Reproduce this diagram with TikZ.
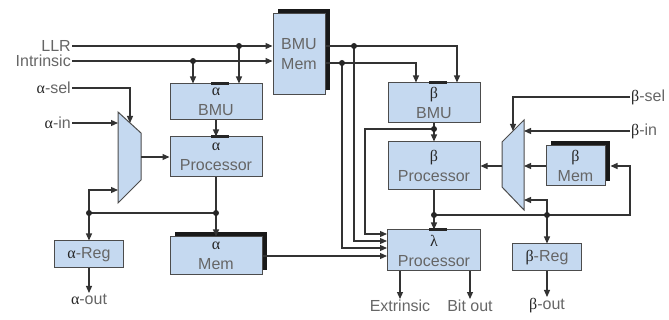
\documentclass[tikz,border=0pt]{standalone}
\usepackage{fontspec}
\setmainfont{Liberation Sans}
\newfontfamily\grkfont{Liberation Serif}
\usepackage{tikz}
\usetikzlibrary{arrows.meta,positioning,calc,shadows}
\definecolor{boxblue}{RGB}{197,217,240}
\newcommand{\lbl}{\fontsize{16}{20}\selectfont}
\newcommand{\gk}[1]{{\grkfont\color{black!85}#1}}
\newcommand{\topbar}[1]{\draw[line width=3pt, black!85] ($(#1.north)+(-5,0)$) -- ($(#1.north)+(13,0)$);}

\begin{document}
\begin{tikzpicture}[x=1pt, y=-1pt,
      blk/.style={draw=black!70, fill=boxblue, line width=1pt, minimum width=92pt,
        align=center, font=\lbl, text=black!60, inner sep=1pt},
      mem/.style={blk, general shadow={fill=black!90, shadow xshift=5pt, shadow yshift=5pt}},
      muxs/.style={draw=black!70, fill=boxblue, line width=1pt},
      lab/.style={font=\lbl, text=black!60, inner sep=1pt},
      wire/.style={line width=1.2pt, draw=black!80},
      arr/.style={wire, -{Triangle[length=7pt,width=6pt]}}]
    \useasboundingbox (0,0) rectangle (669,320);
    % blocks
    \node[mem, minimum width=52pt, minimum height=81pt] (bmumem) at (299,54.5) {BMU\\Mem};
    \node[blk, minimum height=36pt] (abmu) at (216,102) {\gk{α}\\BMU};
    \node[blk, minimum height=40pt] (aproc) at (216,157) {\gk{α}\\Processor};
    \node[mem, minimum height=38pt] (amem) at (216,256) {\gk{α}\\Mem};
    \node[blk, minimum width=69pt, minimum height=27pt] (areg) at (89,254.5) {\gk{α}-Reg};
    \node[blk, minimum height=40pt] (bbmu) at (434,103) {\gk{β}\\BMU};
    \node[blk, minimum height=48pt] (bproc) at (434,166) {\gk{β}\\Processor};
    \node[mem, minimum width=59pt, minimum height=40pt] (bmem) at (575.5,166) {\gk{β}\\Mem};
    \node[blk, minimum width=93pt, minimum height=41pt] (lproc) at (434,250.5) {\gk{λ}\\Processor};
    \node[blk, minimum width=69pt, minimum height=27pt] (breg) at (547,257.5) {\gk{β}-Reg};
    \topbar{abmu}
    \topbar{aproc}
    \topbar{bbmu}
    \topbar{lproc}
    % multiplexers
    \draw[muxs] (118,112) -- (141,133) -- (141,180) -- (118,203) -- cycle;
    \draw[muxs] (502,142) -- (524,120) -- (524,210) -- (502,187) -- cycle;
    \coordinate (amuxsel) at (130,123);
    \coordinate (amuxin) at (118,123);
    \coordinate (amuxfb) at (118,190);
    \coordinate (amuxout) at (141,157);
    \coordinate (bmuxsel) at (513,131);
    \coordinate (bmuxin) at (524,131);
    \coordinate (bmuxmem) at (524,166);
    \coordinate (bmuxfb) at (524,200);
    \coordinate (bmuxout) at (502,166);
    % inputs and outputs
    \node[lab, anchor=east] (llr) at (72,46) {LLR};
    \node[lab, anchor=east] (intr) at (72,61) {Intrinsic};
    \node[lab, anchor=east] (asel) at (72,88) {\gk{α}-sel};
    \node[lab, anchor=east] (ain) at (72,123) {\gk{α}-in};
    \node[lab, anchor=west] (bsel) at (630,97) {\gk{β}-sel};
    \node[lab, anchor=west] (bin) at (630,131) {\gk{β}-in};
    \node[lab, anchor=north] (aout) at (89,293) {\gk{α}-out};
    \node[lab, anchor=north] (extr) at (400,299) {Extrinsic};
    \node[lab, anchor=north] (bito) at (470,299) {Bit out};
    \node[lab, anchor=north] (bout) at (547,297) {\gk{β}-out};
    % junctions
    \coordinate (jllr) at (239,46);
    \coordinate (jint) at (193,61);
    \coordinate (jo1) at (354,46);
    \coordinate (jo2) at (342,63);
    \coordinate (jbbmu) at (434,129);
    \coordinate (kb) at (365,234);
    \coordinate (japroc) at (216,213);
    \coordinate (jareg) at (89,213);
    \coordinate (jbproc) at (434,215);
    \coordinate (jbreg) at (547,215);
    \coordinate (kr) at (630,215);
    % alpha side
    \draw[arr] (llr.east) -- (llr.east -| bmumem.west);
    \draw[arr] (intr.east) -- (intr.east -| bmumem.west);
    \draw[arr] (jllr) -- (jllr |- abmu.north);
    \draw[arr] (jint) -- (jint |- abmu.north);
    \draw[arr] (abmu) -- (aproc);
    \draw[arr] (asel.east) -| (amuxsel);
    \draw[arr] (ain.east) -- (amuxin);
    \draw[arr] (amuxout) -- (amuxout -| aproc.west);
    \draw[wire] (aproc.south) -- (japroc) -- (jareg);
    \draw[arr] (japroc) -- (amem.north);
    \draw[arr] (jareg) |- (amuxfb);
    \draw[arr] (jareg) -- (areg.north);
    \draw[arr] (areg.south) -- (aout.north);
    % beta side
    \draw[arr] (bmumem.east |- jo1) -| ($(bbmu.north)+(23,0)$);
    \draw[arr] (bmumem.east |- jo2) -| ($(bbmu.north)+(-18,0)$);
    \draw[arr] (bbmu) -- (bproc);
    \draw[arr] (bsel.west) -| (bmuxsel);
    \draw[arr] (bin.west) -- (bmuxin);
    \draw[arr] (bmem.west) -- (bmuxmem);
    \draw[arr] (bmuxout) -- (bproc.east);
    \draw[wire] (bproc.south) -- (jbproc);
    \draw[arr] (jbproc) -- (kr) |- ($(bmem.east)+(5,0)$);
    \draw[arr] (jbreg) |- (bmuxfb);
    \draw[arr] (jbreg) -- (breg.north);
    \draw[arr] (breg.south) -- (bout.north);
    % lambda inputs and outputs
    \draw[arr] (jo1) |- ($(lproc.west)+(0,-9.5)$);
    \draw[arr] (jo2) |- ($(lproc.west)+(0,-2.5)$);
    \draw[arr] (jbbmu) -| (kb) -- (kb -| lproc.west);
    \draw[arr] (amem.east) -- (amem.east -| lproc.west);
    \draw[arr] (jbproc) -- (lproc.north);
    \draw[arr] (extr.north |- lproc.south) -- (extr.north);
    \draw[arr] (bito.north |- lproc.south) -- (bito.north);
    \foreach \j in {jllr,jint,jo1,jo2,jbbmu,japroc,jareg,jbproc,jbreg}
      \fill[black!85] (\j) circle (3pt);
  \end{tikzpicture}
\end{document}
